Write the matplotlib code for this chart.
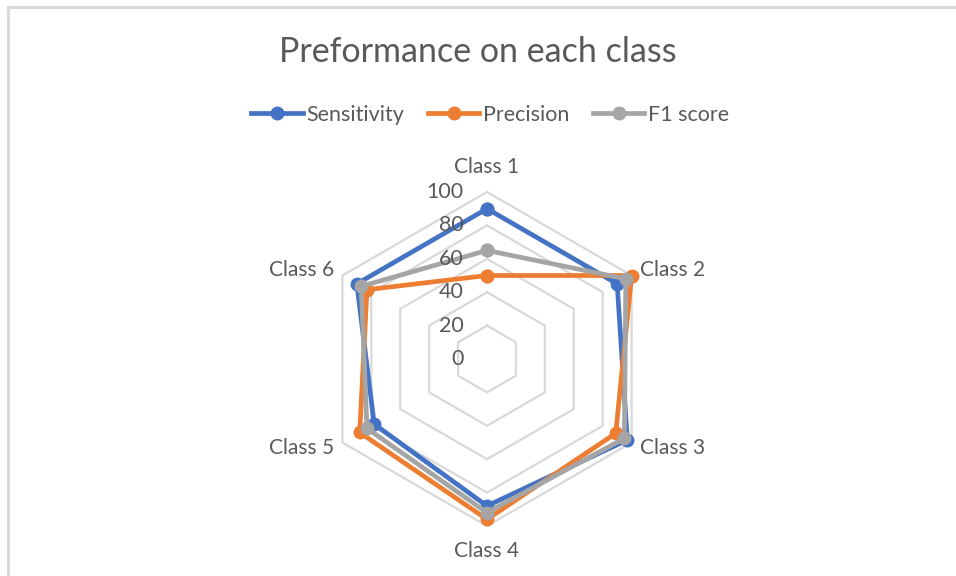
import numpy as np
import matplotlib
matplotlib.use("Agg")
import matplotlib.pyplot as plt
from matplotlib.lines import Line2D

plt.rcParams['font.family'] = ['Lato', 'DejaVu Sans']

classes = ['Class 1', 'Class 2', 'Class 3', 'Class 4', 'Class 5', 'Class 6']
sensitivity = [90, 90, 97, 88, 78, 90]
precision = [50, 100, 89, 96, 88, 83]
f1_score = [65, 96, 95, 92, 83, 87]
ring_values = [20, 40, 60, 80, 100]
tick_values = [0, 20, 40, 60, 80, 100]

txt = '#595959'
grid_col = '#d9d9d9'

n = len(classes)
angles = np.linspace(0, 2 * np.pi, n, endpoint=False)
closed = np.append(angles, angles[0])

fig = plt.figure(figsize=(9.56, 5.76), dpi=100)
ax = fig.add_axes([320 / 956, 50 / 576, 334 / 956, 334 / 576], projection='polar')
ax.set_theta_zero_location('N')
ax.set_theta_direction(-1)
ax.set_ylim(0, 100)
ax.grid(False)
ax.spines['polar'].set_visible(False)
ax.set_xticks([])
ax.set_yticks([])
ax.patch.set_alpha(0)

# hexagonal grid rings
for v in ring_values:
    ax.plot(closed, [v] * (n + 1), color=grid_col, lw=1.6, zorder=1, clip_on=False)

series = [(sensitivity, '#4472C4', 'Sensitivity'),
          (precision, '#ED7D31', 'Precision'),
          (f1_score, '#A5A5A5', 'F1 score')]
for vals, col, name in series:
    ax.plot(closed, vals + vals[:1], color=col, lw=3.4, marker='o', ms=9,
            label=name, zorder=3, clip_on=False)

# value axis labels along the top spoke
for v in tick_values:
    ax.annotate(str(v), xy=(0, v), xytext=(-17, 0), textcoords='offset points',
                ha='right', va='center', fontsize=15.5, color=txt)

# category labels
label_r = [115, 106, 106, 115, 106, 106]
for a, name, r in zip(angles, classes, label_r):
    s = np.sin(a)
    ha = 'center' if abs(s) < 0.1 else ('left' if s > 0 else 'right')
    ax.text(a, r, name, ha=ha, va='center', fontsize=15, color=txt, clip_on=False)

fig.suptitle('Preformance on each class', y=1 - 52 / 576, va='center',
             fontsize=24.5, color=txt)
fig.legend(loc='center', bbox_to_anchor=(490 / 956, 1 - 115 / 576), ncol=3,
           frameon=False, fontsize=15.5, labelcolor=txt, handlelength=2.4,
           handletextpad=0.15, columnspacing=1.1)

# chart area border (top and left edges)
fig.add_artist(Line2D([8 / 956, 1], [1 - 7 / 576] * 2, color=grid_col, lw=2.2,
                      transform=fig.transFigure))
fig.add_artist(Line2D([8 / 956] * 2, [0, 1 - 7 / 576], color=grid_col, lw=2.2,
                      transform=fig.transFigure))

fig.savefig('out.png', dpi=100, facecolor='white')
